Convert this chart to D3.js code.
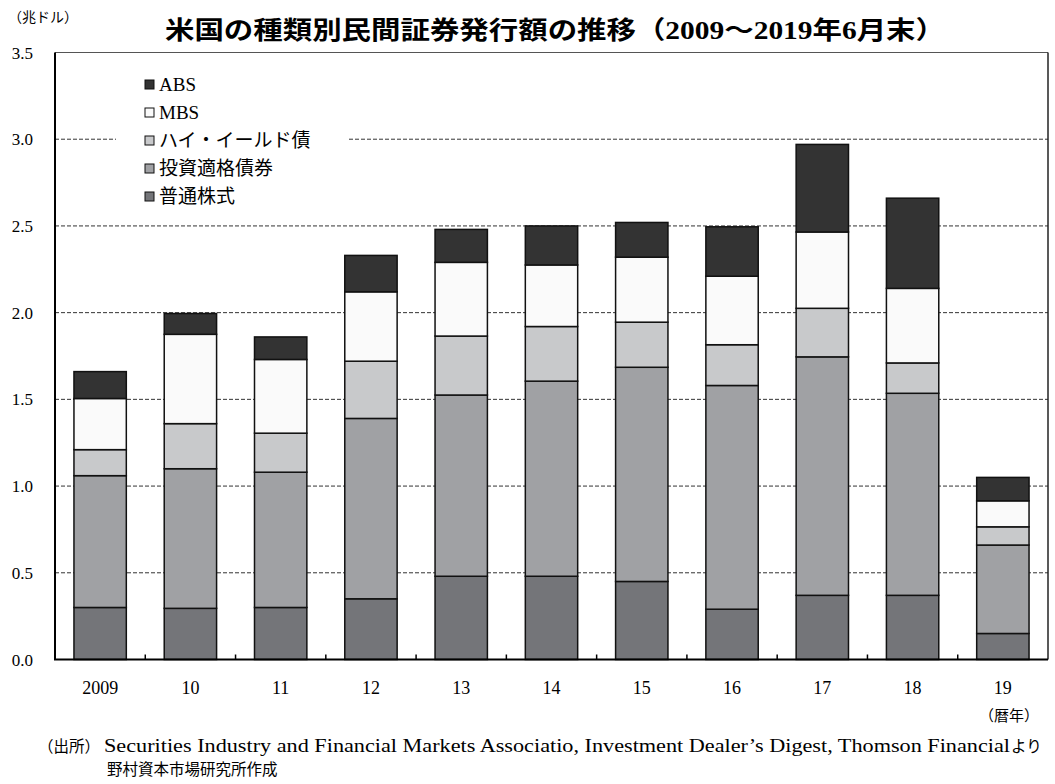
<!DOCTYPE html>
<html>
<head>
<meta charset="utf-8">
<script src="https://cdn.jsdelivr.net/npm/d3@7"></script>
<style>
  body { margin: 0; background: #fff; }
  svg text { font-family: "Liberation Serif", "Noto Sans CJK JP", serif; fill: #000; }
</style>
</head>
<body>
<script>
const years = ['2009', '10', '11', '12', '13', '14', '15', '16', '17', '18', '19'];
const series_names = ['普通株式', '投資適格債券', 'ハイ・イールド債', 'MBS', 'ABS'];
const equity = [0.30, 0.295, 0.30, 0.35, 0.48, 0.48, 0.45, 0.29, 0.37, 0.37, 0.15];
const inv_grade = [0.76, 0.805, 0.78, 1.04, 1.045, 1.125, 1.235, 1.29, 1.375, 1.165, 0.51];
const high_yield = [0.15, 0.26, 0.225, 0.33, 0.34, 0.315, 0.26, 0.235, 0.28, 0.175, 0.105];
const mbs = [0.295, 0.515, 0.425, 0.40, 0.425, 0.355, 0.375, 0.395, 0.44, 0.43, 0.15];
const abs = [0.155, 0.12, 0.13, 0.21, 0.19, 0.225, 0.20, 0.285, 0.505, 0.52, 0.135];
const y_ticks = [0, 0.5, 1.0, 1.5, 2.0, 2.5, 3.0, 3.5];

const colors = ['#747579', '#a0a1a4', '#c8c9cb', '#fafafa', '#333333'];

const _svg_width = 1055;
const _svg_height = 784;
const _left = 55;
const _right = 1048;
const _top = 52.5;
const _bottom = 659.5;

const table = years.map((y, i) => ({
    year: y,
    [series_names[0]]: equity[i],
    [series_names[1]]: inv_grade[i],
    [series_names[2]]: high_yield[i],
    [series_names[3]]: mbs[i],
    [series_names[4]]: abs[i]
}));
const stacked = d3.stack().keys(series_names)(table);

const x = d3.scaleBand().domain(years).range([_left, _right]).paddingInner(0.42).paddingOuter(0.21);
const y = d3.scaleLinear().domain([0, 3.5]).range([_bottom, _top]);

const svg = d3.select('body')
    .append('svg')
    .attr('width', _svg_width)
    .attr('height', _svg_height);

// grid lines
svg.append('g')
    .selectAll('line')
    .data(y_ticks.filter(d => d > 0 && d < 3.5))
    .join('line')
    .attr('x1', _left).attr('x2', _right)
    .attr('y1', d => y(d)).attr('y2', d => y(d))
    .attr('stroke', '#333')
    .attr('stroke-width', 1)
    .attr('stroke-dasharray', '4,2');

// top border
svg.append('line')
    .attr('x1', _left).attr('x2', _right)
    .attr('y1', y(3.5)).attr('y2', y(3.5))
    .attr('stroke', '#555')
    .attr('stroke-width', 1.2);

// bars
svg.append('g')
    .selectAll('g')
    .data(stacked)
    .join('g')
    .attr('fill', (d, i) => colors[i])
    .selectAll('rect')
    .data(d => d)
    .join('rect')
    .attr('x', d => x(d.data.year))
    .attr('width', x.bandwidth())
    .attr('y', d => y(d[1]))
    .attr('height', d => y(d[0]) - y(d[1]))
    .attr('stroke', '#111')
    .attr('stroke-width', 1.5);

// frame: left axis, right border, bottom axis
svg.append('line')
    .attr('x1', _left).attr('x2', _left)
    .attr('y1', _top).attr('y2', _bottom)
    .attr('stroke', '#000').attr('stroke-width', 2);
svg.append('line')
    .attr('x1', _right).attr('x2', _right)
    .attr('y1', _top).attr('y2', _bottom)
    .attr('stroke', '#222').attr('stroke-width', 1.5);
svg.append('line')
    .attr('x1', _left - 1).attr('x2', _right)
    .attr('y1', _bottom).attr('y2', _bottom)
    .attr('stroke', '#000').attr('stroke-width', 2);

// x ticks at band edges
const step = x.step();
svg.append('g')
    .selectAll('line')
    .data(years.slice(1))
    .join('line')
    .attr('x1', d => x(d) - (step - x.bandwidth()) / 2)
    .attr('x2', d => x(d) - (step - x.bandwidth()) / 2)
    .attr('y1', _bottom).attr('y2', _bottom - 5)
    .attr('stroke', '#000').attr('stroke-width', 1.5);

// y labels
svg.append('g')
    .selectAll('text')
    .data(y_ticks)
    .join('text')
    .attr('x', 33)
    .attr('y', d => y(d) + 6)
    .attr('text-anchor', 'end')
    .style('font-size', '17px')
    .text(d => d.toFixed(1));

// x labels
svg.append('g')
    .selectAll('text')
    .data(years)
    .join('text')
    .attr('x', d => x(d) + x.bandwidth() / 2)
    .attr('y', 694)
    .attr('text-anchor', 'middle')
    .style('font-size', '18px')
    .text(d => d);

svg.append('text')
    .attr('x', 1039).attr('y', 721)
    .attr('text-anchor', 'end')
    .style('font-size', '15px')
    .text('（暦年）');

svg.append('text')
    .attr('x', 8).attr('y', 22)
    .style('font-size', '14px')
    .text('（兆ドル）');

// title
svg.append('text')
    .attr('x', 555).attr('y', 39)
    .attr('text-anchor', 'middle')
    .style('font-size', '25px')
    .style('font-weight', 'bold')
    .attr('textLength', 780)
    .attr('lengthAdjust', 'spacingAndGlyphs')
    .text('米国の種類別民間証券発行額の推移（2009〜2019年6月末）');

// legend
const legend = svg.append('g');
legend.append('rect')
    .attr('x', 116).attr('y', 70)
    .attr('width', 232).attr('height', 140)
    .attr('fill', '#fff');
const legend_order = [4, 3, 2, 1, 0];
legend.selectAll('g')
    .data(legend_order)
    .join('g')
    .attr('transform', (d, i) => `translate(145, ${80 + i * 28})`)
    .call(g => g.append('rect')
        .attr('width', 9).attr('height', 9)
        .attr('fill', d => colors[d])
        .attr('stroke', '#111').attr('stroke-width', 1))
    .call(g => g.append('text')
        .attr('x', 14).attr('y', 11)
        .style('font-size', '19px')
        .text(d => series_names[d]));

// source
svg.append('text')
    .attr('x', 38).attr('y', 752)
    .style('font-size', '15.5px')
    .text('（出所）');
svg.append('text')
    .attr('x', 104).attr('y', 752)
    .style('font-size', '18.5px')
    .attr('textLength', 906)
    .attr('lengthAdjust', 'spacingAndGlyphs')
    .text('Securities Industry and Financial Markets Associatio, Investment Dealer’s Digest, Thomson Financial');
svg.append('text')
    .attr('x', 1011).attr('y', 752)
    .style('font-size', '15.5px')
    .text('より');
svg.append('text')
    .attr('x', 107).attr('y', 775)
    .style('font-size', '15.5px')
    .text('野村資本市場研究所作成');
</script>
</body>
</html>
